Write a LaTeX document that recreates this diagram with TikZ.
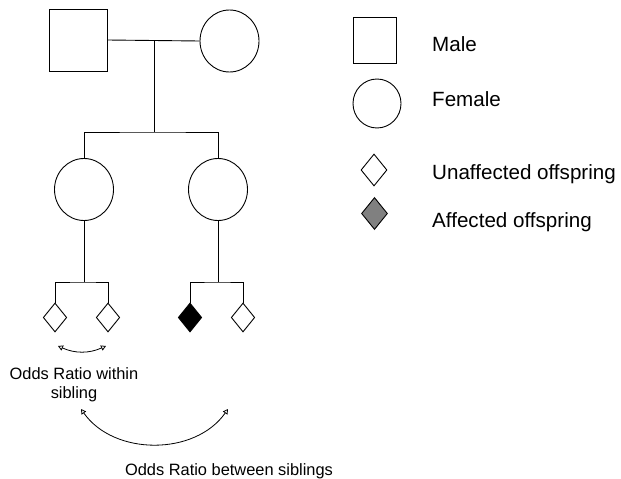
\documentclass[tikz,border=0pt]{standalone}
\usepackage{fontspec}
\setmainfont{Liberation Sans}
\usetikzlibrary{shapes.geometric,arrows.meta}
\newcommand\legfont{\fontsize{20.6}{24}\selectfont}
\newcommand\oddsfont{\fontsize{16.4}{19}\selectfont}
\tikzset{
  person/.style={draw, line width=0.9pt, inner sep=0pt, fill=white},
  malebox/.style={person, rectangle, minimum width=58pt, minimum height=62pt},
  femalebox/.style={person, ellipse, minimum width=59pt, minimum height=62pt},
  kid/.style={person, diamond, minimum width=23.5pt, minimum height=29pt},
  legkid/.style={person, diamond, minimum width=26pt, minimum height=32pt},
  link/.style={line width=0.9pt},
  legtext/.style={anchor=base west, font=\legfont, inner sep=0pt},
  oddstext/.style={font=\oddsfont, inner sep=0pt, align=center},
  oddsarrow/.style={line width=0.8pt, {Triangle[open,length=5pt,width=5.5pt]}-{Triangle[open,length=5pt,width=5.5pt]}}
}
\begin{document}
\begin{tikzpicture}[x=1pt,y=1pt]
\useasboundingbox (0,0) rectangle (621,-479);
% grandparents
\node[malebox] (gf) at (78,-40) {};
\node[femalebox] (gm) at (229.5,-41) {};
\coordinate (mj) at (154,-41);
\coordinate (sj) at (154,-132);
\draw[link] (gf.east) -- (gm.west);
\draw[link] (mj) -- (sj);
% daughters
\node[femalebox] (d1) at (84,-189.5) {};
\node[femalebox] (d2) at (218,-189.5) {};
\draw[link] (d1.north) |- (sj) -| (d2.north);
% grandchildren
\coordinate (j1) at (84,-282);
\coordinate (j2) at (218,-282);
\node[kid] (g1) at (55,-317.5) {};
\node[kid] (g2) at (108,-317.5) {};
\node[kid, fill=black] (g3) at (190,-317.5) {};
\node[kid] (g4) at (243,-317.5) {};
\draw[link] (d1.south) -- (j1);
\draw[link] (d2.south) -- (j2);
\draw[link] (g1.north) |- (j1) -| (g2.north);
\draw[link] (g3.north) |- (j2) -| (g4.north);
% odds ratio arcs
\coordinate (a1) at (58,-346);
\coordinate (a2) at (106,-346);
\coordinate (b1) at (81,-409);
\coordinate (b2) at (228,-409);
\draw[oddsarrow] (a1) to[bend right=24] (a2);
\draw[oddsarrow] (b1) to[bend right=55] (b2);
\node[oddstext] (ow) at (74,-385) {Odds Ratio within\\sibling};
\node[oddstext, anchor=base] (ob) at (229,-475.7) {Odds Ratio between siblings};
% legend
\node[malebox, minimum width=43pt, minimum height=46pt] (lm) at (374.5,-40) {};
\node[femalebox, minimum width=48pt, minimum height=49pt] (lf) at (377,-103.5) {};
\node[legkid] (lu) at (374,-170) {};
\node[legkid, fill=gray] (la) at (374.5,-213.5) {};
\node[legtext] (tm) at (432,-51) {Male};
\node[legtext] (tf) at (432,-106.7) {Female};
\node[legtext] (tu) at (432,-179) {Unaffected offspring};
\node[legtext] (ta) at (432,-227) {Affected offspring};
\end{tikzpicture}
\end{document}
